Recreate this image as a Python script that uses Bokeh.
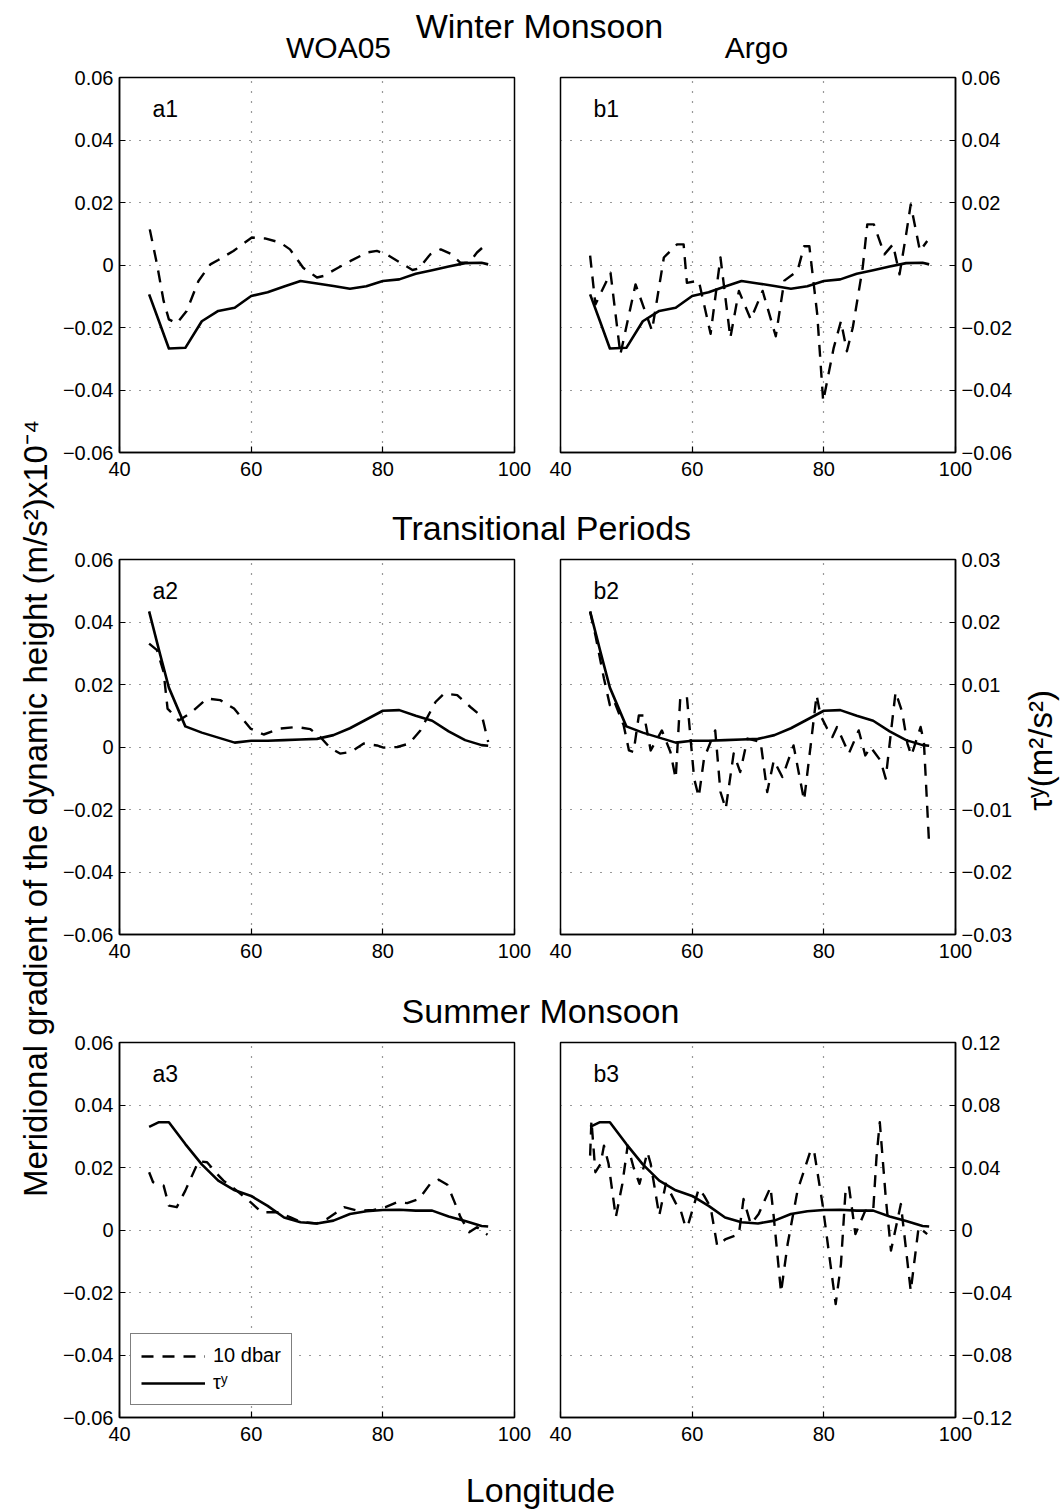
from bokeh.plotting import figure
from bokeh.models import (Range1d, LinearAxis, FixedTicker, CustomJSTickFormatter,
                          Grid, Label, Legend, LegendItem)
from bokeh.layouts import row, column
from bokeh.embed import file_html
from bokeh.resources import INLINE

FONT = "Liberation Sans"

# ---------------- data ----------------
x_ticks = [40, 60, 80, 100]
dh_ticks = [-0.06, -0.04, -0.02, 0, 0.02, 0.04, 0.06]
tau_ticks_winter = [-0.06, -0.04, -0.02, 0, 0.02, 0.04, 0.06]
tau_ticks_trans = [-0.03, -0.02, -0.01, 0, 0.01, 0.02, 0.03]
tau_ticks_summer = [-0.12, -0.08, -0.04, 0, 0.04, 0.08, 0.12]

lon_tau = [44.5, 46, 47.5, 50, 52.5, 55, 57.5, 60, 62.5, 65, 67.5, 70, 72.5, 75,
           77.5, 80, 82.5, 85, 87.5, 90, 92.5, 95, 96]
tau_winter = [-0.0094, -0.0180, -0.0267, -0.0265, -0.0180, -0.0147, -0.0137, -0.0099,
              -0.0087, -0.0069, -0.0051, -0.0059, -0.0067, -0.0076, -0.0068, -0.0051,
              -0.0046, -0.0028, -0.0017, -0.0005, 0.0006, 0.0007, 0.0002]
tau_trans = [0.0217, 0.0155, 0.0095, 0.0033, 0.0023, 0.0015, 0.0007, 0.0010, 0.0010,
             0.0011, 0.0012, 0.0013, 0.0019, 0.0030, 0.0044, 0.0058, 0.0059, 0.0050,
             0.0042, 0.0025, 0.0011, 0.0003, 0.0002]
tau_summer = [0.066, 0.069, 0.069, 0.055, 0.042, 0.0316, 0.0254, 0.0218, 0.0154,
              0.0080, 0.0050, 0.0042, 0.0060, 0.0102, 0.0120, 0.0128, 0.0130, 0.0124,
              0.0124, 0.0086, 0.0058, 0.0026, 0.0022]

lon_woa_winter = [44.6, 45.7, 46.7, 47.5, 48.7, 50.2, 52.0, 53.8, 55.0, 57.3, 60.1, 62.1,
                  64.4, 65.9, 67.9, 70.0, 71.0, 73.0, 75.1, 77.6, 79.1, 80.6, 82.7, 84.5,
                  85.5, 87.2, 88.8, 90.3, 91.8, 93.1, 94.3, 96.0]
dh_woa_winter = [0.0114, 0.0002, -0.0115, -0.0174, -0.0187, -0.0147, -0.0051, 0.0002,
                 0.0016, 0.0045, 0.0088, 0.0085, 0.0072, 0.0050, -0.0009, -0.0040,
                 -0.0035, -0.0011, 0.0013, 0.0040, 0.0045, 0.0034, 0.0007, -0.0016,
                 -0.0011, 0.0034, 0.0050, 0.0036, 0.0007, 0.0007, 0.0040, 0.0072]

lon_woa_trans = [44.5, 45.7, 46.7, 47.3, 49.0, 50.7, 53.3, 55.3, 57.4, 59.9, 61.9, 64.4,
                 66.9, 69.0, 70.5, 72.0, 73.5, 75.1, 77.1, 79.1, 80.1, 82.2, 84.0, 85.7,
                 88.0, 89.3, 91.3, 93.3, 95.1, 96.0]
dh_woa_trans = [0.0331, 0.0310, 0.0240, 0.0123, 0.0085, 0.0107, 0.0155, 0.0150, 0.0123,
                0.0059, 0.0040, 0.0059, 0.0064, 0.0057, 0.0032, -0.0003, -0.0021, -0.0016,
                0.0011, 0.0005, -0.0002, 0.0000, 0.0011, 0.0053, 0.0144, 0.0171, 0.0166,
                0.0128, 0.0096, 0.0016]

lon_woa_summer = [44.5, 45.1, 46.7, 47.5, 48.7, 50.0, 52.0, 53.3, 54.8, 55.8, 57.8, 59.9,
                  61.6, 63.9, 65.9, 67.7, 70.0, 71.5, 74.1, 76.1, 78.6, 80.4, 82.2, 83.7,
                  85.5, 87.2, 88.5, 89.8, 90.8, 91.8, 93.1, 94.3, 95.9]
dh_woa_summer = [0.0185, 0.0153, 0.0142, 0.0078, 0.0073, 0.0126, 0.0220, 0.0217, 0.0180,
                 0.0158, 0.0126, 0.0089, 0.0057, 0.0057, 0.0041, 0.0025, 0.0021, 0.0035,
                 0.0073, 0.0062, 0.0064, 0.0073, 0.0089, 0.0086, 0.0099, 0.0148, 0.0161,
                 0.0145, 0.0094, 0.0041, -0.0007, 0.0009, -0.0015]

lon_argo_winter = [44.5, 45.3, 47.6, 49.1, 51.4, 53.9, 55.7, 57.7, 58.7, 59.2, 61.0, 62.8,
                   64.3, 65.8, 67.1, 68.9, 70.7, 72.7, 74.0, 76.0, 77.0, 77.8, 79.0, 79.9,
                   81.5, 82.6, 83.5, 84.4, 85.9, 86.6, 87.6, 89.2, 90.5, 91.5, 92.5, 93.2,
                   94.1, 94.6, 95.7]
dh_argo_winter = [0.0030, -0.0126, -0.0025, -0.0286, -0.0062, -0.0210, 0.0024, 0.0066,
                  0.0066, -0.0057, -0.0050, -0.0220, 0.0024, -0.0233, -0.0083, -0.0174,
                  -0.0083, -0.0228, -0.0050, -0.0019, 0.0060, 0.0060, -0.0158, -0.0436,
                  -0.0265, -0.0180, -0.0276, -0.0200, -0.0009, 0.0130, 0.0130, 0.0034,
                  0.0066, -0.0030, 0.0098, 0.0194, 0.0098, 0.0045, 0.0077]

lon_argo_trans = [44.5, 45.3, 46.6, 47.5, 48.1, 49.6, 50.4, 51.1, 51.9, 52.7, 53.7, 55.4,
                  56.7, 57.5, 58.2, 59.2, 60.3, 61.0, 61.8, 63.5, 64.3, 65.1, 66.3, 67.3,
                  68.4, 70.4, 71.4, 72.4, 73.7, 75.4, 77.0, 78.0, 78.9, 79.5, 80.5, 81.3,
                  82.0, 83.8, 85.3, 86.3, 87.1, 88.6, 89.4, 90.4, 90.9, 91.9, 92.7, 93.3,
                  94.7, 95.2, 96.0]
dh_argo_trans = [0.0433, 0.0358, 0.0219, 0.0134, 0.0150, 0.0069, -0.0011, -0.0016, 0.0101,
                 0.0101, -0.0011, 0.0053, -0.0016, -0.0101, 0.0160, 0.0160, -0.0101,
                 -0.0160, -0.0037, 0.0053, -0.0144, -0.0198, -0.0021, -0.0080, 0.0027,
                 0.0016, -0.0144, -0.0043, -0.0096, 0.0005, -0.0171, 0.0005, 0.0166,
                 0.0101, 0.0059, 0.0032, 0.0064, -0.0021, 0.0053, -0.0027, 0.0000,
                 -0.0043, -0.0101, 0.0085, 0.0176, 0.0112, 0.0011, -0.0027, 0.0064,
                 0.0016, -0.0315]

lon_argo_summer = [44.5, 44.7, 45.3, 46.1, 46.6, 47.3, 48.4, 49.4, 50.2, 51.1, 52.0, 53.2,
                   53.7, 55.0, 56.0, 57.5, 58.2, 59.0, 59.5, 61.0, 61.8, 62.8, 63.8, 65.1,
                   67.1, 67.8, 68.9, 70.1, 71.9, 72.4, 73.5, 74.5, 76.0, 78.0, 78.5, 79.8,
                   81.0, 81.8, 82.6, 83.3, 83.8, 84.8, 86.3, 87.5, 88.0, 88.5, 89.4, 90.2,
                   91.7, 93.2, 94.4, 95.7]
dh_argo_summer = [0.0238, 0.0350, 0.0185, 0.0212, 0.0270, 0.0212, 0.0041, 0.0148, 0.0270,
                  0.0200, 0.0148, 0.0249, 0.0212, 0.0046, 0.0148, 0.0086, 0.0067, 0.0009,
                  0.0025, 0.0132, 0.0110, 0.0073, -0.0050, -0.0029, -0.0013, 0.0099,
                  0.0019, 0.0051, 0.0137, 0.0041, -0.0200, -0.0045, 0.0126, 0.0255,
                  0.0255, 0.0083, -0.0109, -0.0237, -0.0109, 0.0126, 0.0142, -0.0013,
                  0.0062, 0.0062, 0.0233, 0.0345, 0.0105, -0.0066, 0.0083, -0.0195,
                  0.0009, -0.0013]

# ---------------- helpers ----------------
FMT_CODE = """
if (Math.abs(tick) < 1e-12) { return "0"; }
return (tick < 0 ? "\u2212" : "") + Math.abs(tick).toFixed(2);
"""


def style_axis(ax, standoff):
    ax.axis_line_color = "black"
    ax.axis_line_width = 1.5
    ax.major_tick_in = 6
    ax.major_tick_out = 0
    ax.major_tick_line_color = "black"
    ax.major_tick_line_width = 1.2
    ax.minor_tick_line_color = None
    ax.major_label_text_font = FONT
    ax.major_label_text_font_size = "20px"
    ax.major_label_text_color = "black"
    ax.major_label_standoff = standoff


def panel(col, lon_d, dh, tau, tau_ticks, tag, legend=False):
    left = col == 0
    tau_lim = max(tau_ticks)
    p = figure(width=482 if left else 478, height=427,
               x_range=Range1d(40, 100), y_range=Range1d(-0.06, 0.06),
               x_axis_location="below",
               y_axis_location="left" if left else None,
               toolbar_location=None, output_backend="svg",
               min_border_left=64 if left else 23,
               min_border_right=23 if left else 60,
               min_border_top=12, min_border_bottom=40)
    p.extra_y_ranges = {"tau": Range1d(-tau_lim, tau_lim)}
    p.outline_line_color = "black"
    p.outline_line_width = 1.5
    p.outline_line_alpha = 1.0
    p.grid.visible = False

    p.xaxis.ticker = FixedTicker(ticks=x_ticks)
    style_axis(p.xaxis[0], 9)
    if left:
        p.yaxis.ticker = FixedTicker(ticks=dh_ticks)
        p.yaxis.formatter = CustomJSTickFormatter(code=FMT_CODE)
        style_axis(p.yaxis[0], 6)
    else:
        ax = LinearAxis(y_range_name="tau", ticker=FixedTicker(ticks=tau_ticks),
                        formatter=CustomJSTickFormatter(code=FMT_CODE))
        style_axis(ax, 6)
        p.add_layout(ax, "right")

    for dim, ticks in ((0, [60, 80]), (1, [-0.04, -0.02, 0, 0.02, 0.04])):
        p.add_layout(Grid(dimension=dim, ticker=FixedTicker(ticks=ticks),
                          grid_line_color="#333333", grid_line_width=1.2,
                          grid_line_dash="1 9"))

    r_dash = p.line(lon_d, dh, line_color="black", line_width=2.4,
                    line_dash="12 9", line_join="round")
    r_tau = p.line(lon_tau, tau, y_range_name="tau", line_color="black",
                   line_width=2.6, line_join="round")

    p.add_layout(Label(x=45, y=0.05, text=tag, text_font=FONT,
                       text_font_size="23px", text_align="left",
                       text_baseline="middle", text_color="black"))

    if legend:
        lg = Legend(items=[LegendItem(label="10 dbar", renderers=[r_dash]),
                           LegendItem(label="\u03c4\u02b8", renderers=[r_tau])],
                    location=(11, 12), margin=0, padding=10, spacing=4,
                    label_height=22, glyph_height=22, glyph_width=64,
                    label_standoff=8, label_text_font=FONT,
                    label_text_font_size="20px", label_text_color="black",
                    border_line_color="black", border_line_width=1.5,
                    background_fill_color="white", background_fill_alpha=1.0)
        p.add_layout(lg)
    return p


def text_fig(w, h, items):
    p = figure(width=w, height=h, x_range=Range1d(0, w), y_range=Range1d(h, 0),
               x_axis_location=None, y_axis_location=None,
               toolbar_location=None, output_backend="svg", min_border=0)
    p.outline_line_color = None
    p.grid.visible = False
    for (x, y, txt, size, angle) in items:
        p.add_layout(Label(x=x, y=y, text=txt, text_font=FONT, text_font_size=size,
                           text_align="center", text_baseline="middle",
                           angle=angle, angle_units="deg", text_color="black"))
    return p


a1 = panel(0, lon_woa_winter, dh_woa_winter, tau_winter, tau_ticks_winter, "a1")
b1 = panel(1, lon_argo_winter, dh_argo_winter, tau_winter, tau_ticks_winter, "b1")
a2 = panel(0, lon_woa_trans, dh_woa_trans, tau_trans, tau_ticks_trans, "a2")
b2 = panel(1, lon_argo_trans, dh_argo_trans, tau_trans, tau_ticks_trans, "b2")
a3 = panel(0, lon_woa_summer, dh_woa_summer, tau_summer, tau_ticks_summer, "a3", legend=True)
b3 = panel(1, lon_argo_summer, dh_argo_summer, tau_summer, tau_ticks_summer, "b3")

CW = 960   # page x 55 .. 1015
t1 = text_fig(CW, 65, [(484, 25, "Winter Monsoon", "34px", 0),
                       (283, 47, "WOA05", "30px", 0),
                       (701, 47, "Argo", "30px", 0)])
t2 = text_fig(CW, 55, [(486, 35, "Transitional Periods", "34px", 0)])
t3 = text_fig(CW, 56, [(485, 36, "Summer Monsoon", "34px", 0)])
tx = text_fig(CW, 52, [(485, 32, "Longitude", "34px", 0)])

center = column(t1, row(a1, b1), t2, row(a2, b2), t3, row(a3, b3), tx)
H = 65 + 427 + 55 + 427 + 56 + 427 + 52
ylab = text_fig(55, H, [(35, 808, "Meridional gradient of the dynamic height (m/s\u00b2)x10\u207b\u2074", "33px", 90)])
taulab = text_fig(48, H, [(25, 750, "\u03c4\u02b8(m\u00b2/s\u00b2)", "33px", 90)])

root = row(ylab, center, taulab)
open("out.html", "w").write(file_html(root, INLINE, "chart"))
